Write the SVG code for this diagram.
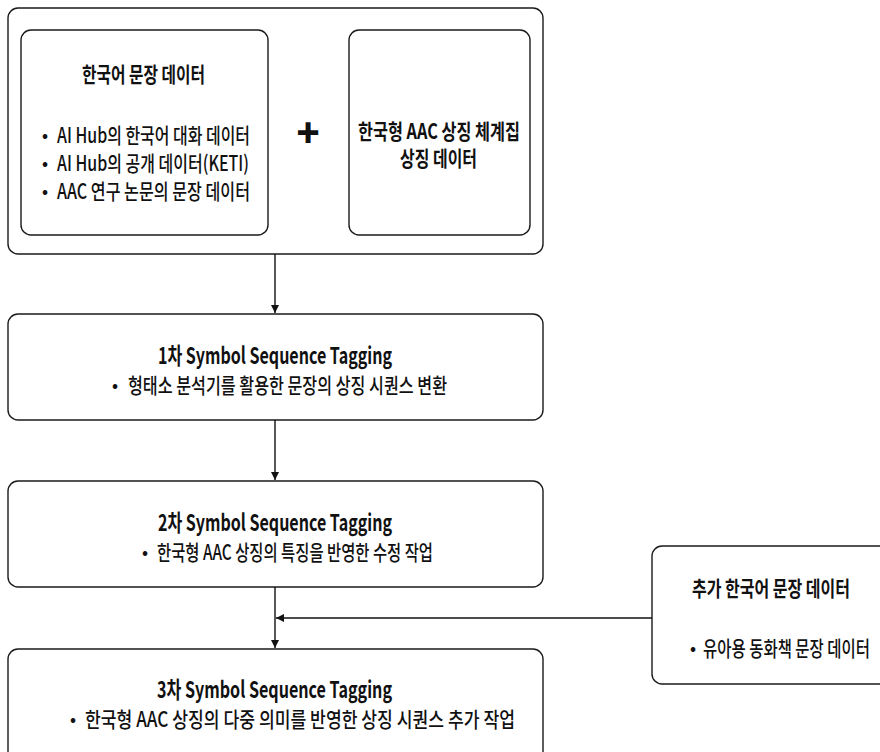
<svg xmlns="http://www.w3.org/2000/svg" width="880" height="752" viewBox="0 0 880 752">
  <style>
    .box { fill: #ffffff; stroke: #1a1a1a; stroke-width: 1.4; }
    .t { font-family: "Noto Sans CJK KR", "Noto Sans", sans-serif; fill: #111111; }
    .b { font-weight: 700; }
    .h { font-size: 21px; }
    .s { font-size: 21px; font-weight: 500; }
    .tt { font-size: 23px; font-weight: 700; }
    .bul { font-size: 16px; text-anchor: middle; font-weight: 700; }
    .conn { stroke: #111111; stroke-width: 1.4; fill: none; marker-end: url(#ah); }
  </style>
  <defs>
    <marker id="ah" markerUnits="userSpaceOnUse" markerWidth="8" markerHeight="8" refX="8" refY="4" orient="auto">
      <path d="M0,0 L8,4 L0,8 z" fill="#111111"/>
    </marker>
  </defs>

  <rect width="880" height="752" fill="#ffffff"/>

  <!-- source data group -->
  <g id="source">
    <rect class="box" x="8" y="8" width="535" height="246" rx="10"/>
  </g>

  <g id="korean-sentences">
    <rect class="box" x="21" y="30" width="247" height="205" rx="10"/>
    <text class="t b h" x="82" y="82" textLength="123" lengthAdjust="spacingAndGlyphs">한국어 문장 데이터</text>
    <text class="t bul" x="45" y="141">•</text>
    <text class="t s" x="57" y="143" textLength="193" lengthAdjust="spacingAndGlyphs">AI Hub의 한국어 대화 데이터</text>
    <text class="t bul" x="45" y="169">•</text>
    <text class="t s" x="57" y="171" textLength="192" lengthAdjust="spacingAndGlyphs">AI Hub의 공개 데이터(KETI)</text>
    <text class="t bul" x="45" y="197">•</text>
    <text class="t s" x="57" y="199" textLength="193" lengthAdjust="spacingAndGlyphs">AAC 연구 논문의 문장 데이터</text>
  </g>

  <g id="plus">
    <text class="t" x="308" y="147" font-size="38" font-weight="900" text-anchor="middle">+</text>
  </g>

  <g id="symbol-set">
    <rect class="box" x="349" y="30" width="181" height="205" rx="10"/>
    <text class="t b h" x="358" y="139" textLength="162" lengthAdjust="spacingAndGlyphs">한국형 AAC 상징 체계집</text>
    <text class="t b h" x="400" y="166" textLength="77" lengthAdjust="spacingAndGlyphs">상징 데이터</text>
  </g>

  <!-- tagging stages -->
  <g id="stage1">
    <rect class="box" x="8" y="314" width="535" height="106" rx="10"/>
    <text class="t tt" x="158" y="364" textLength="234" lengthAdjust="spacingAndGlyphs">1차 Symbol Sequence Tagging</text>
    <text class="t bul" x="115" y="391">•</text>
    <text class="t s" x="128" y="393" textLength="319" lengthAdjust="spacingAndGlyphs">형태소 분석기를 활용한 문장의 상징 시퀀스 변환</text>
  </g>

  <g id="stage2">
    <rect class="box" x="8" y="481" width="535" height="106" rx="10"/>
    <text class="t tt" x="158" y="531" textLength="234" lengthAdjust="spacingAndGlyphs">2차 Symbol Sequence Tagging</text>
    <text class="t bul" x="145" y="558">•</text>
    <text class="t s" x="157" y="560" textLength="276" lengthAdjust="spacingAndGlyphs">한국형 AAC 상징의 특징을 반영한 수정 작업</text>
  </g>

  <g id="stage3">
    <rect class="box" x="8" y="649" width="535" height="115" rx="10"/>
    <text class="t tt" x="157" y="698" textLength="235" lengthAdjust="spacingAndGlyphs">3차 Symbol Sequence Tagging</text>
    <text class="t bul" x="73" y="725">•</text>
    <text class="t s" x="85" y="727" textLength="430" lengthAdjust="spacingAndGlyphs">한국형 AAC 상징의 다중 의미를 반영한 상징 시퀀스 추가 작업</text>
  </g>

  <g id="extra-sentences">
    <rect class="box" x="652" y="546" width="240" height="138" rx="10"/>
    <text class="t b h" x="692" y="596" textLength="158" lengthAdjust="spacingAndGlyphs">추가 한국어 문장 데이터</text>
    <text class="t bul" x="693" y="654">•</text>
    <text class="t s" x="703" y="656" textLength="167" lengthAdjust="spacingAndGlyphs">유아용 동화책 문장 데이터</text>
  </g>

  <!-- connectors -->
  <g id="connectors">
    <line class="conn" x1="275" y1="254" x2="275" y2="313"/>
    <line class="conn" x1="275" y1="420" x2="275" y2="480"/>
    <line class="conn" x1="275" y1="587" x2="275" y2="648"/>
    <line class="conn" x1="652" y1="618" x2="276" y2="618"/>
  </g>
</svg>
